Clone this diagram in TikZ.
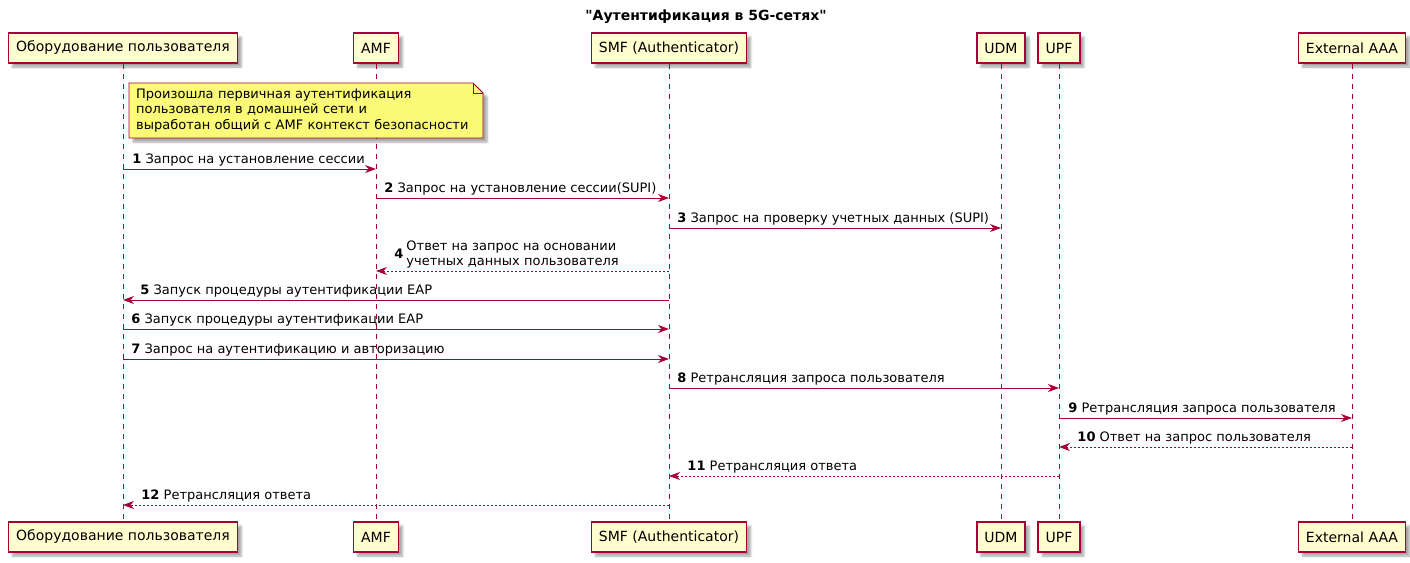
\documentclass[tikz,border=0pt]{standalone}
\usepackage{fontspec}
\setmainfont{DejaVu Sans}[Ligatures=TeXOff]
\usetikzlibrary{arrows.meta,shadows.blur}

\definecolor{umlRed}{HTML}{A80036}
\definecolor{umlBox}{HTML}{FEFECE}
\definecolor{umlNote}{HTML}{FBFB77}

\tikzset{
  umlshadow/.style={blur shadow={shadow xshift=4pt, shadow yshift=-4pt, shadow blur steps=6, shadow opacity=35}},
  actor/.style={draw=umlRed, line width=1.3pt, fill=umlBox, minimum height=30pt, inner xsep=7.5pt,
    font=\fontsize{14}{16}\selectfont, umlshadow},
  lifeline/.style={umlRed, line width=0.8pt, dash pattern=on 5pt off 5pt},
  msg/.style={umlRed, line width=0.9pt, -{Stealth[length=11pt,width=8pt,inset=3.5pt]}},
  reply/.style={msg, dash pattern=on 2pt off 2pt},
  lbl/.style={text=black, font=\fontsize{13}{15.5}\selectfont, anchor=base west, inner sep=0pt, yshift=6pt},
}

\begin{document}
\begin{tikzpicture}[x=1pt, y=-1pt]
  \useasboundingbox (0,0) rectangle (1410,562);

  % заголовок
  \node (title) at (706,17) [font=\bfseries\fontsize{14}{16}\selectfont] {"Аутентификация в 5G-сетях"};

  % участники сверху
  \node (ue)  [actor] at (123,48)  {Оборудование пользователя};
  \node (amf) [actor] at (376,48)  {AMF};
  \node (smf) [actor] at (669,48)  {SMF (Authenticator)};
  \node (udm) [actor] at (1001,48) {UDM};
  \node (upf) [actor] at (1059,48) {UPF};
  \node (aaa) [actor] at (1352,48) {External AAA};

  % участники снизу
  \node (ue2)  [actor] at (123,537)  {Оборудование пользователя};
  \node (amf2) [actor] at (376,537)  {AMF};
  \node (smf2) [actor] at (669,537)  {SMF (Authenticator)};
  \node (udm2) [actor] at (1001,537) {UDM};
  \node (upf2) [actor] at (1059,537) {UPF};
  \node (aaa2) [actor] at (1352,537) {External AAA};

  % линии жизни
  \foreach \p in {ue,amf,smf,udm,upf,aaa}
    \draw[lifeline] (\p) -- (\p2);

  % заметка
  \coordinate (noteNW) at (129,83);
  \coordinate (noteSE) at (483,138);
  \filldraw[draw=umlRed, fill=umlNote, line width=0.8pt, umlshadow]
    (noteNW) -- ([xshift=-10pt]noteSE |- noteNW) -- ([yshift=-10pt]noteSE |- noteNW)
    -- (noteSE) -- (noteNW |- noteSE) -- cycle;
  \draw[umlRed, line width=0.8pt] ([xshift=-10pt]noteSE |- noteNW) -- ([xshift=-10pt,yshift=-10pt]noteSE |- noteNW)
    -- ([yshift=-10pt]noteSE |- noteNW);
  \node (note) [anchor=north west, text width=340pt, align=left, inner xsep=7pt, inner ysep=5.5pt,
    font=\fontsize{13}{15.5}\selectfont] at (noteNW)
    {Произошла первичная аутентификация\\пользователя в домашней сети и\\выработан общий с AMF контекст безопасности};

  % строки сообщений
  \foreach \i/\y in {1/169,2/198,3/228,4/271,5/300,6/329,7/359,8/388,9/418,10/447,11/476,12/505}
    \coordinate (m\i) at (0,\y);

  % сообщения
  \draw[msg] (ue |- m1) -- (amf |- m1) node[lbl, pos=0, xshift=9pt] {\textbf{1} Запрос на установление сессии};
  \draw[msg] (amf |- m2) -- (smf |- m2) node[lbl, pos=0, xshift=8pt] {\textbf{2} Запрос на установление сессии(SUPI)};
  \draw[msg] (smf |- m3) -- (udm |- m3) node[lbl, pos=0, xshift=8pt] {\textbf{3} Запрос на проверку учетных данных (SUPI)};
  \draw[reply] (smf |- m4) -- (amf |- m4)
    node[lbl, pos=1, xshift=18pt, yshift=7pt] {\textbf{4}}
    node[pos=1, anchor=south west, inner sep=0pt, xshift=30pt, yshift=2pt, align=left, text=black,
      font=\fontsize{13}{15.5}\selectfont] {Ответ на запрос на основании\\учетных данных пользователя};
  \draw[msg] (smf |- m5) -- (ue |- m5) node[lbl, pos=1, xshift=17pt] {\textbf{5} Запуск процедуры аутентификации EAP};
  \draw[msg] (ue |- m6) -- (smf |- m6) node[lbl, pos=0, xshift=8pt] {\textbf{6} Запуск процедуры аутентификации EAP};
  \draw[msg] (ue |- m7) -- (smf |- m7) node[lbl, pos=0, xshift=8pt] {\textbf{7} Запрос на аутентификацию и авторизацию};
  \draw[msg] (smf |- m8) -- (upf |- m8) node[lbl, pos=0, xshift=8pt] {\textbf{8} Ретрансляция запроса пользователя};
  \draw[msg] (upf |- m9) -- (aaa |- m9) node[lbl, pos=0, xshift=9pt] {\textbf{9} Ретрансляция запроса пользователя};
  \draw[reply] (aaa |- m10) -- (upf |- m10) node[lbl, pos=1, xshift=18pt] {\textbf{10} Ответ на запрос пользователя};
  \draw[reply] (upf |- m11) -- (smf |- m11) node[lbl, pos=1, xshift=18pt] {\textbf{11} Ретрансляция ответа};
  \draw[reply] (smf |- m12) -- (ue |- m12) node[lbl, pos=1, xshift=18pt] {\textbf{12} Ретрансляция ответа};
\end{tikzpicture}
\end{document}
